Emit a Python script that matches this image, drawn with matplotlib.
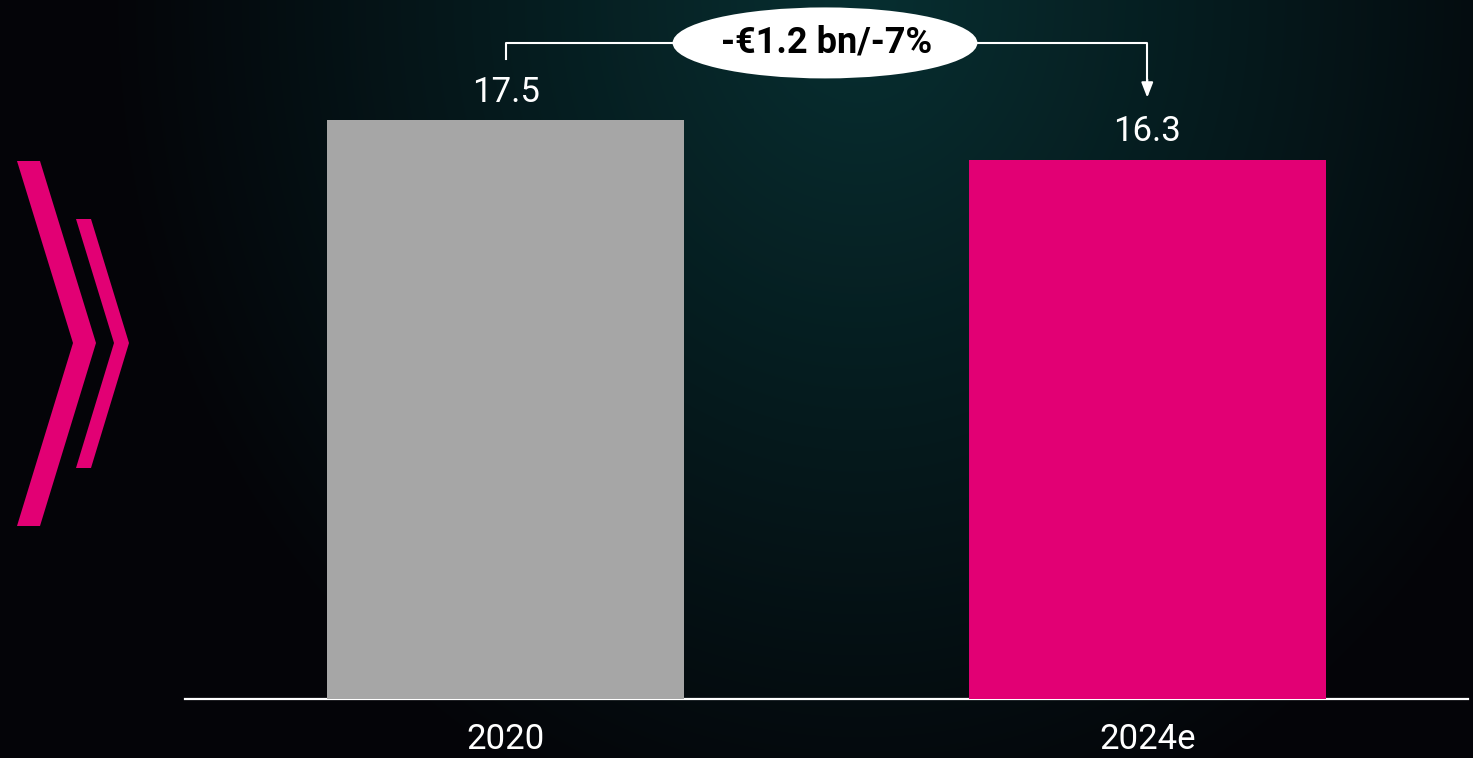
import numpy as np
import matplotlib
matplotlib.use("Agg")
import matplotlib.pyplot as plt
from matplotlib.patches import Ellipse, Polygon

# ---- data ----
categories = ["2020", "2024e"]
values = [17.5, 16.3]
bar_colors = ["#a6a6a6", "#e20074"]
change_label = "-€1.2 bn/-7%"

W, H = 1473, 758
fig = plt.figure(figsize=(W / 100, H / 100), dpi=100)

# ---- background gradient (styling) ----
bg = fig.add_axes([0, 0, 1, 1])
bg.set_xlim(0, W)
bg.set_ylim(H, 0)
bg.axis("off")
yy, xx = np.mgrid[0:H, 0:W]
d = np.sqrt(((xx - 860) / 760.0) ** 2 + ((yy - 0) / 880.0) ** 2)
t = np.clip(1 - d, 0, 1) ** 1.0
edge = np.array([4, 4, 8]) / 255.0
center = np.array([7, 47, 49]) / 255.0
img = edge[None, None, :] + t[..., None] * (center - edge)[None, None, :]
bg.imshow(img, extent=[0, W, H, 0], aspect="auto", zorder=0)

# chevrons (decoration)
pink = "#e20074"
big = [(17, 161), (40, 161), (96, 343), (40, 526), (17, 526), (73, 343)]
small = [(76, 219), (91, 219), (129, 343), (91, 468), (76, 468), (114, 343)]
for pts in (big, small):
    bg.add_patch(Polygon(pts, closed=True, facecolor=pink, edgecolor="none", zorder=2))

# ---- main axes ----
px_per_unit = 33.09
ax = fig.add_axes([185 / W, 59 / H, (1468 - 185) / W, 699 / H])
ax.patch.set_alpha(0)
ax.set_xlim(-0.5, 1.5)
ax.set_ylim(0, 699 / px_per_unit)
x = np.arange(len(categories))
ax.bar(x, values, width=0.556, color=bar_colors, zorder=3)

for xi, v in zip(x, values):
    ax.annotate(f"{v:.1f}", (xi, v), xytext=(0, 20), textcoords="offset points",
                ha="center", va="center", color="white", fontsize=25,
                fontfamily="Roboto", fontweight="normal")

for s in ["top", "right", "left"]:
    ax.spines[s].set_visible(False)
ax.spines["bottom"].set_color("white")
ax.spines["bottom"].set_linewidth(1.6)
ax.set_yticks([])
ax.set_xticks(x)
ax.set_xticklabels(categories, color="white", fontsize=25, fontfamily="Roboto",
                   fontweight="normal")
ax.tick_params(axis="x", length=0, pad=17)

# ---- change bracket ----
y_line = values[0] + (120 - 43) / px_per_unit
y_left_end = values[0] + (120 - 59) / px_per_unit
y_tip = values[1] + (160 - 98) / px_per_unit
ax.plot([x[0], x[0], x[1], x[1]], [y_left_end, y_line, y_line, y_tip + 0.5],
        color="white", lw=1.5, clip_on=False, zorder=4)
ax.annotate("", xy=(x[1], y_tip), xytext=(x[1], y_tip + 0.55),
            arrowprops=dict(arrowstyle="-|>,head_length=0.9,head_width=0.35",
                            color="white", lw=1.5, shrinkA=0, shrinkB=0),
            annotation_clip=False, zorder=4)
ell = Ellipse(((x[0] + x[1]) / 2 + (826 - 827.5) / 642, y_line), width=305 / 642,
              height=71 / px_per_unit, facecolor="white", edgecolor="none",
              clip_on=False, zorder=5)
ax.add_patch(ell)
ax.text((x[0] + x[1]) / 2, y_line, change_label, ha="center", va="center",
        color="black", fontsize=26, fontweight="bold", fontfamily="Roboto",
        zorder=6, clip_on=False)

fig.savefig("out.png", dpi=100)
